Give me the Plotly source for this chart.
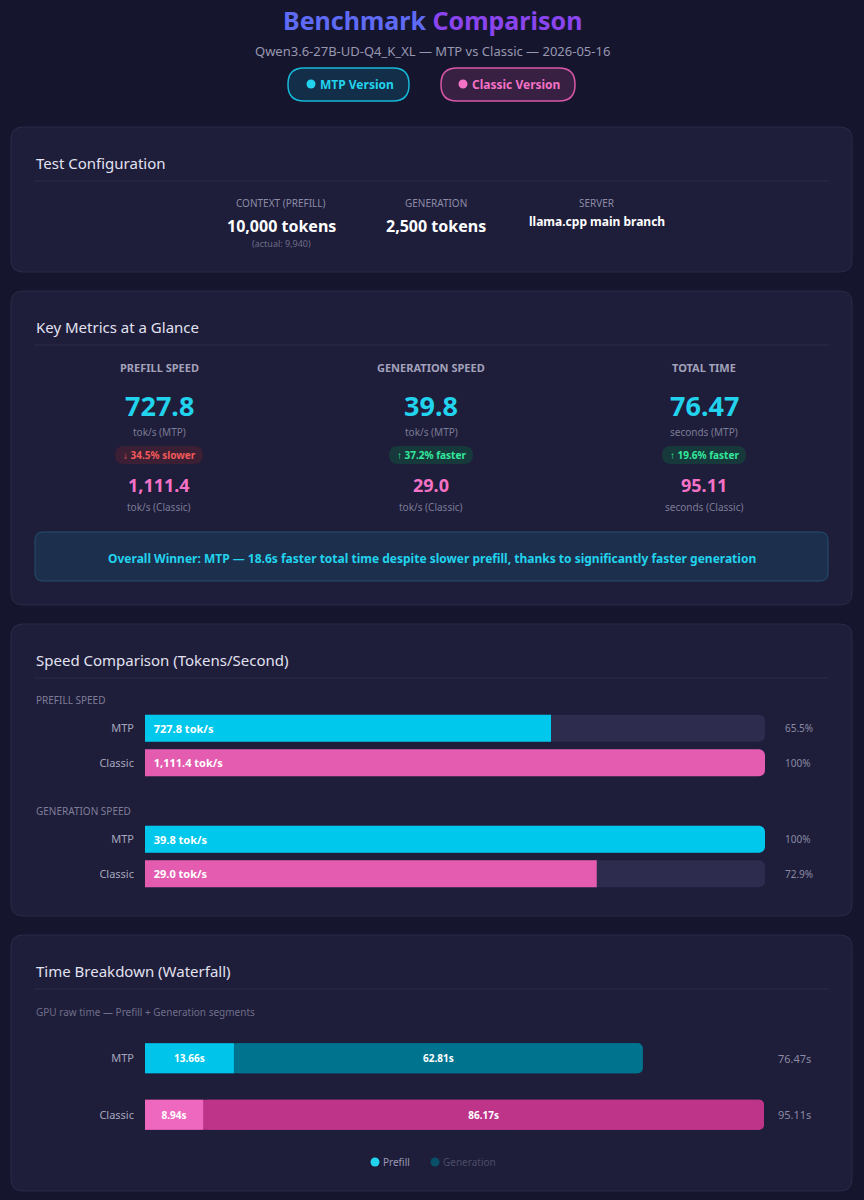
import plotly.graph_objects as go

W, H = 864, 1200
FONT = "Noto Sans"

# ---- data ----
variants = ["MTP", "Classic"]
prefill_speed = [727.8, 1111.4]     # tok/s
gen_speed = [39.8, 29.0]            # tok/s
prefill_time = [13.66, 8.94]        # s
gen_time = [62.81, 86.17]           # s
total_time = [76.47, 95.11]         # s
context_tokens = 10000
context_actual = 9940
gen_tokens = 2500
model = "Qwen3.6-27B-UD-Q4_K_XL"
run_date = "2026-05-16"
server = "llama.cpp main branch"

# ---- colours ----
BG = "#16152e"
CARD = "#1e1d3a"
CARD_LINE = "#2b2a49"
CYAN = "#00c8ec"
CYAN_TXT = "#22d3ee"
PINK = "#e45cb0"
PINK_TXT = "#f472c6"
CYAN_DARK = "#00738f"
PINK_DARK = "#bd3489"
TRACK = "#2e2c4e"
GREY = "#8c8ca6"
LIGHT = "#e2e2f0"

shapes, ann = [], []


def X(p):
    return p / W


def Y(p):
    return 1 - p / H


def rrect(x0, y0, x1, y1, r, fill, line=None, lw=1):
    path = (f"M {X(x0 + r)} {Y(y0)} L {X(x1 - r)} {Y(y0)} Q {X(x1)} {Y(y0)} {X(x1)} {Y(y0 + r)} "
            f"L {X(x1)} {Y(y1 - r)} Q {X(x1)} {Y(y1)} {X(x1 - r)} {Y(y1)} "
            f"L {X(x0 + r)} {Y(y1)} Q {X(x0)} {Y(y1)} {X(x0)} {Y(y1 - r)} "
            f"L {X(x0)} {Y(y0 + r)} Q {X(x0)} {Y(y0)} {X(x0 + r)} {Y(y0)} Z")
    shapes.append(dict(type="path", xref="paper", yref="paper", path=path, fillcolor=fill,
                       line=dict(color=line or fill, width=lw if line else 0), layer="below"))


def dot(cx, cy, r, color):
    shapes.append(dict(type="circle", xref="paper", yref="paper", x0=X(cx - r), x1=X(cx + r),
                       y0=Y(cy + r), y1=Y(cy - r), fillcolor=color, line=dict(width=0), layer="below"))


def hline(x0, x1, y, color=CARD_LINE):
    shapes.append(dict(type="line", xref="paper", yref="paper", x0=X(x0), x1=X(x1), y0=Y(y), y1=Y(y),
                       line=dict(color=color, width=1), layer="below"))


def txt(x, y, s, size, color, bold=False, anchor="center", xref="paper", yref="paper"):
    ann.append(dict(x=X(x) if xref == "paper" else x, y=Y(y) if yref == "paper" else y,
                    xref=xref, yref=yref, text=f"<b>{s}</b>" if bold else s, showarrow=False,
                    font=dict(size=size, color=color, family=FONT), xanchor=anchor, yanchor="middle"))


# ---- header ----
txt(432, 20, "<span style='color:#5f6af5'>Benchmark</span> <span style='color:#8b45ef'>Comparison</span>",
    25, "#7a55f2", bold=True)
txt(432, 51, f"{model} — MTP vs Classic — {run_date}", 13, "#9898b0")
rrect(288, 68, 409, 101, 16, "rgba(0,200,236,0.14)", "#16b8d8", 1.5)
dot(311, 84, 4.5, CYAN_TXT)
txt(357, 85, "MTP Version", 12, CYAN_TXT, bold=True)
rrect(441, 68, 575, 101, 16, "rgba(228,92,176,0.16)", "#d958a6", 1.5)
dot(463, 84, 4.5, PINK_TXT)
txt(516, 85, "Classic Version", 12, PINK_TXT, bold=True)

# ---- cards ----
for y0, y1, title in [(127, 272, "Test Configuration"), (291, 605, "Key Metrics at a Glance"),
                      (624, 916, "Speed Comparison (Tokens/Second)"), (935, 1191, "Time Breakdown (Waterfall)")]:
    rrect(11, y0, 852, y1, 12, CARD, CARD_LINE, 1)
    txt(34, y0 + 36, title, 15, LIGHT, anchor="left")
    hline(34, 829, y0 + 54)

# test configuration
txt(281, 203, "CONTEXT (PREFILL)", 10, GREY)
txt(281, 226, f"{context_tokens:,} tokens", 16, "#ffffff", bold=True)
txt(281, 243, f"(actual: {context_actual:,})", 9, "#6e6e88")
txt(436, 203, "GENERATION", 10, GREY)
txt(436, 226, f"{gen_tokens:,} tokens", 16, "#ffffff", bold=True)
txt(597, 203, "SERVER", 10, GREY)
txt(597, 221, server, 12, "#ffffff", bold=True)

# key metrics
pf_delta = (prefill_speed[0] / prefill_speed[1] - 1) * 100
gn_delta = (gen_speed[0] / gen_speed[1] - 1) * 100
tt_delta = (1 - total_time[0] / total_time[1]) * 100
metrics = [
    (159, "PREFILL SPEED", f"{prefill_speed[0]:,.1f}", f"{prefill_speed[1]:,.1f}", "tok/s", pf_delta),
    (431, "GENERATION SPEED", f"{gen_speed[0]:,.1f}", f"{gen_speed[1]:,.1f}", "tok/s", gn_delta),
    (704, "TOTAL TIME", f"{total_time[0]:.2f}", f"{total_time[1]:.2f}", "seconds", tt_delta),
]
for cx, label, v_mtp, v_cls, unit, delta in metrics:
    txt(cx, 367, label, 11, "#a2a2ba", bold=True)
    txt(cx, 405, v_mtp, 27, CYAN_TXT, bold=True)
    txt(cx, 432, f"{unit} (MTP)", 10, "#7c7c96")
    if delta < 0:
        rrect(cx - 44, 446, cx + 44, 464, 9, "#3b1f34")
        txt(cx, 455, f"↓ {abs(delta):.1f}% slower", 10, "#f05a5a", bold=True)
    else:
        rrect(cx - 42, 446, cx + 42, 464, 9, "#17393b")
        txt(cx, 455, f"↑ {delta:.1f}% faster", 10, "#34e89e", bold=True)
    txt(cx, 485, v_cls, 18, PINK_TXT, bold=True)
    txt(cx, 507, f"{unit} (Classic)", 10, "#7c7c96")

rrect(35, 532, 828, 581, 8, "#1c2f4c", "#24506e", 1)
saved = total_time[1] - total_time[0]
txt(432, 558, f"Overall Winner: MTP — {saved:.1f}s faster total time despite slower prefill, "
    "thanks to significantly faster generation", 12, CYAN_TXT, bold=True)

# speed comparison section labels
txt(34, 700, "PREFILL SPEED", 10, "#7e7e98", anchor="left")
txt(34, 811, "GENERATION SPEED", 10, "#7e7e98", anchor="left")

# waterfall caption + legend
txt(34, 1012, "GPU raw time — Prefill + Generation segments", 10, "#6e6e88", anchor="left")
dot(375, 1162, 4.5, CYAN_TXT)
txt(381, 1162, "Prefill", 10, "#9a9ab4", anchor="left")
dot(435, 1162, 4.5, "#0a4f6a")
txt(441, 1162, "Generation", 10, "#4c4c66", anchor="left")

# ---- bars ----
fig = go.Figure()
bar_colors = [CYAN, PINK]
noline = dict(width=0)


def pct_label(v, m):
    p = v / m * 100
    return "100%" if abs(p - 100) < 1e-9 else f"{p:.1f}%"


for i, vals in enumerate([prefill_speed, gen_speed]):
    ax = "" if i == 0 else "2"
    m = max(vals)
    fig.add_trace(go.Bar(y=variants, x=[m] * len(vals), orientation="h", width=0.78,
                         marker=dict(color=TRACK, cornerradius=6, line=noline), hoverinfo="skip",
                         xaxis="x" + ax, yaxis="y" + ax, showlegend=False))
    fig.add_trace(go.Bar(y=variants, x=vals, orientation="h", width=0.78,
                         marker=dict(color=bar_colors, cornerradius=6, line=noline),
                         text=[f"{v:,.1f} tok/s" for v in vals],
                         texttemplate="\u00a0\u00a0<b>%{text}</b>",
                         textposition="inside", insidetextanchor="start", constraintext="none",
                         textfont=dict(color="white", size=11, family=FONT),
                         xaxis="x" + ax, yaxis="y" + ax, showlegend=False))
    for v, name in zip(vals, variants):
        txt(783, name, pct_label(v, m), 10, "#8a8aa4", anchor="left", yref="y" + ax)

# waterfall
fig.add_trace(go.Bar(y=variants, x=total_time, orientation="h", width=0.53,
                     marker=dict(color=[CYAN_DARK, PINK_DARK], cornerradius=5, line=noline),
                     hoverinfo="skip", xaxis="x3", yaxis="y3", showlegend=False))
fig.add_trace(go.Bar(y=variants, x=gen_time, base=prefill_time, orientation="h", width=0.53,
                     name="Generation",
                     marker=dict(color=[CYAN_DARK, PINK_DARK], cornerradius=5, line=noline),
                     text=[f"{v:.2f}s" for v in gen_time], texttemplate="<b>%{text}</b>",
                     textposition="inside", insidetextanchor="middle", constraintext="none",
                     textfont=dict(color="white", size=10, family=FONT),
                     xaxis="x3", yaxis="y3", showlegend=False))
fig.add_trace(go.Bar(y=variants, x=prefill_time, orientation="h", width=0.53, name="Prefill",
                     marker=dict(color=["#00c4ea", "#ef68c0"], cornerradius=5, line=noline),
                     text=[f"{v:.2f}s" for v in prefill_time], texttemplate="<b>%{text}</b>",
                     textposition="inside", insidetextanchor="middle", constraintext="none",
                     textfont=dict(color="white", size=10, family=FONT),
                     xaxis="x3", yaxis="y3", showlegend=False))
for t, name in zip(total_time, variants):
    txt(776, name, f"{t:.2f}s", 11, "#8a8aa4", anchor="left", yref="y3")

xdom = [X(145), X(765)]
ystyle = dict(autorange="reversed", ticks="", showgrid=False, zeroline=False, showline=False,
              tickfont=dict(size=11, color="#a6a6be", family=FONT), ticklabelstandoff=10)
xstyle = dict(visible=False, showgrid=False, zeroline=False, fixedrange=True)

fig.update_layout(
    width=W, height=H, margin=dict(l=0, r=0, t=0, b=0),
    paper_bgcolor=BG, plot_bgcolor="rgba(0,0,0,0)",
    barmode="overlay", showlegend=False,
    font=dict(family=FONT, color=LIGHT),
    xaxis=dict(domain=xdom, range=[0, max(prefill_speed)], anchor="y", **xstyle),
    yaxis=dict(domain=[Y(780), Y(711)], anchor="x", **ystyle),
    xaxis2=dict(domain=xdom, range=[0, max(gen_speed)], anchor="y2", **xstyle),
    yaxis2=dict(domain=[Y(891), Y(822)], anchor="x2", **ystyle),
    xaxis3=dict(domain=[X(145), X(764)], range=[0, max(total_time)], anchor="y3", **xstyle),
    yaxis3=dict(domain=[Y(1143), Y(1030)], anchor="x3", **ystyle),
    shapes=shapes, annotations=ann,
)

fig.write_html("out.html", config={"displayModeBar": False},
               post_script="document.body.style.margin='0';document.body.style.background='" + BG + "';")
